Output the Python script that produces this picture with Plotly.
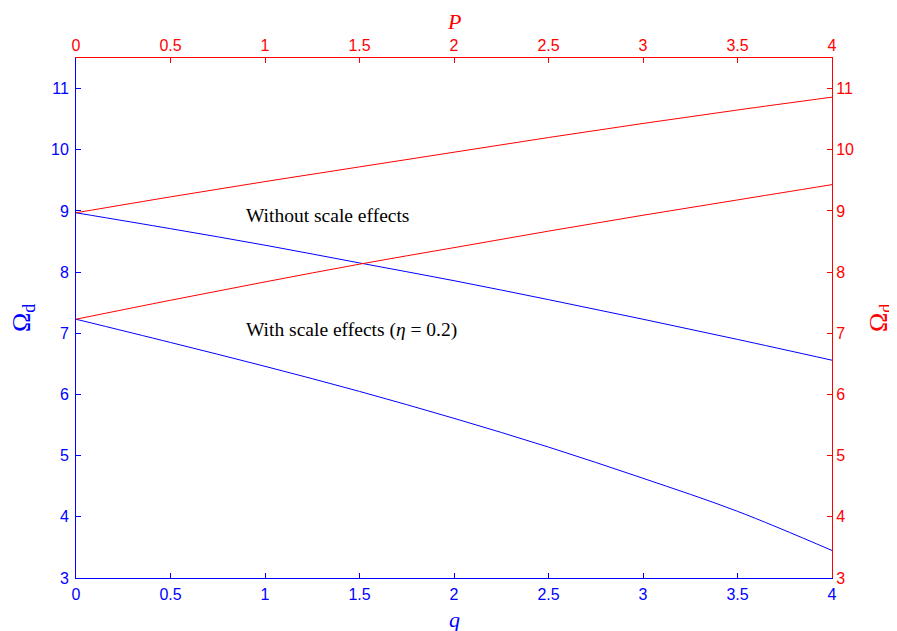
import plotly.graph_objects as go

q_vals = [0, 0.5, 1, 1.5, 2, 2.5, 3, 3.5, 4]
P_vals = [0, 0.5, 1, 1.5, 2, 2.5, 3, 3.5, 4]
omega_q_without = [8.97, 8.71, 8.44, 8.15, 7.86, 7.55, 7.23, 6.90, 6.56]
omega_q_with = [7.23, 6.85, 6.46, 6.05, 5.61, 5.14, 4.63, 4.09, 3.45]
omega_P_without = [8.97, 9.23, 9.48, 9.72, 9.96, 10.20, 10.43, 10.65, 10.86]
omega_P_with = [7.23, 7.54, 7.84, 8.13, 8.40, 8.67, 8.93, 9.18, 9.43]

BLUE = "#0000ff"
RED = "#ff0000"
SERIF = "Liberation Serif, Times New Roman, serif"
SANS = "Liberation Sans, Arial, sans-serif"

fig = go.Figure()
for xs, ys, col, xa, ya in [
    (q_vals, omega_q_without, BLUE, "x", "y"),
    (q_vals, omega_q_with, BLUE, "x", "y"),
    (P_vals, omega_P_without, RED, "x2", "y2"),
    (P_vals, omega_P_with, RED, "x2", "y2"),
]:
    fig.add_trace(go.Scatter(x=xs, y=ys, mode="lines",
                             line=dict(color=col, width=1, shape="spline", smoothing=1.0),
                             xaxis=xa, yaxis=ya, showlegend=False))

common = dict(showgrid=False, zeroline=False, showline=True, linewidth=1,
              ticks="inside", ticklen=5, tickwidth=1)

fig.update_layout(
    width=889, height=623,
    margin=dict(l=68, r=65, t=50, b=53),
    plot_bgcolor="white", paper_bgcolor="white",
    xaxis=dict(range=[0, 4], dtick=0.5, side="bottom", linecolor=BLUE, tickcolor=BLUE,
               ticklabelstandoff=2,
               tickfont=dict(family=SANS, size=16, color=BLUE), **common),
    xaxis2=dict(range=[0, 4], dtick=0.5, side="top", overlaying="x", anchor="y2",
                linecolor=RED, tickcolor=RED,
                tickfont=dict(family=SANS, size=16, color=RED), **common),
    yaxis=dict(range=[3, 11.5], dtick=1, side="left", linecolor=BLUE, tickcolor=BLUE,
               ticklabelstandoff=3,
               tickfont=dict(family=SANS, size=16, color=BLUE), **common),
    yaxis2=dict(range=[3, 11.5], dtick=1, side="right", overlaying="y", anchor="x2",
                linecolor=RED, tickcolor=RED,
                tickfont=dict(family=SANS, size=16, color=RED), **common),
    annotations=[
        dict(x=0.889, y=8.93, xref="x", yref="y", text="Without scale effects",
             showarrow=False, xanchor="left", yanchor="middle",
             font=dict(family=SERIF, size=19.5, color="black")),
        dict(x=0.889, y=7.05, xref="x", yref="y", text="With scale effects (<i>η</i> = 0.2)",
             showarrow=False, xanchor="left", yanchor="middle",
             font=dict(family=SERIF, size=19.5, color="black")),
        dict(x=0.5, y=0, xref="paper", yref="paper", text="<i>q</i>", showarrow=False,
             xanchor="center", yanchor="middle", yshift=-41,
             font=dict(family=SERIF, size=22, color=BLUE)),
        dict(x=0.5, y=1, xref="paper", yref="paper", text="<i>P</i>", showarrow=False,
             xanchor="center", yanchor="middle", yshift=37,
             font=dict(family=SERIF, size=22, color=RED)),
        dict(x=0, y=0.5, xref="paper", yref="paper", text="Ω<sub>d</sub>", showarrow=False,
             xanchor="center", yanchor="middle", xshift=-53, textangle=-90,
             font=dict(family=SERIF, size=26, color=BLUE)),
        dict(x=1, y=0.5, xref="paper", yref="paper", text="Ω<sub>d</sub>", showarrow=False,
             xanchor="center", yanchor="middle", xshift=48, textangle=-90,
             font=dict(family=SERIF, size=26, color=RED)),
    ],
)

fig.write_html("out.html")
